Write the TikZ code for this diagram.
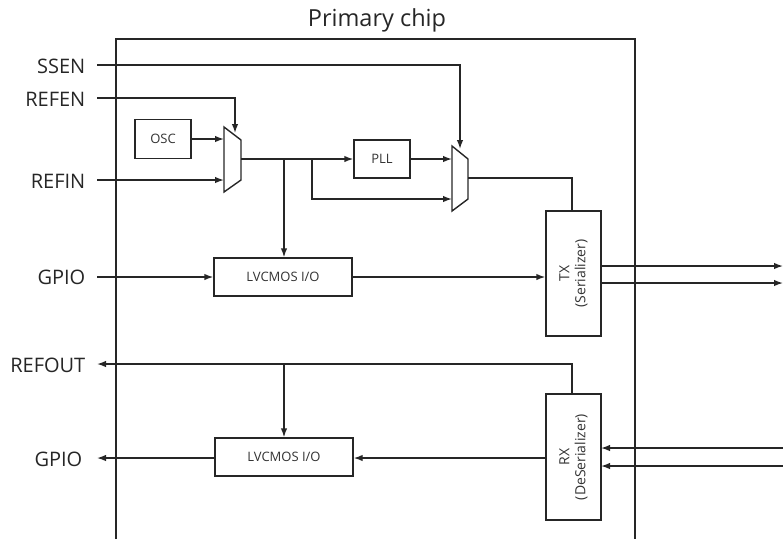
\documentclass[tikz,border=0pt]{standalone}
\usepackage{fontspec}
\setmainfont{Open Sans}
\usetikzlibrary{arrows.meta}
\begin{document}
\begin{tikzpicture}[x=1pt,y=-1pt,
  line width=1.4pt,
  wire/.style={draw=black!85, line width=1.4pt},
  arr/.style={wire, -{Latex[length=9pt,width=6.5pt]}},
  blk/.style={draw=black!85, line width=1.4pt, minimum width=#1, inner sep=0pt, font=\fontsize{13}{15}\selectfont, text=black!80},
  lbl/.style={anchor=east, font=\fontsize{20}{24}\selectfont, text=black!85, inner sep=0pt},
  vtxt/.style={rotate=90, align=center, font=\fontsize{14}{16}\selectfont, text=black!80}
]
\useasboundingbox (0,0) rectangle (783,539);
% title and chip outline
\node[font=\fontsize{23.5}{26}\selectfont, text=black!85] (title) at (377,20) {Primary chip};
\draw[wire] (116,539) -- (116,39) -- (635,39) -- (635,539);

% labels
\node[lbl] (ssen) at (86,66) {SSEN};
\node[lbl] (refen) at (86,99) {REFEN};
\node[lbl] (refin) at (86,181) {REFIN};
\node[lbl] (gpio1) at (86,277) {GPIO};
\node[lbl] (refout) at (86,365) {REFOUT};
\node[lbl] (gpio2) at (83,459) {GPIO};

\coordinate (sseni) at (97,65);
\coordinate (refeni) at (97,98);
\coordinate (refini) at (97,180);
\coordinate (gpioi) at (97,277);
\coordinate (refouto) at (97,364);
\coordinate (gpioo) at (97,458);

% blocks
\node[blk=56pt, minimum height=39pt] (osc) at (163,139) {OSC};
\node[blk=56pt, minimum height=38pt] (pll) at (382,159) {PLL};
\node[blk=138pt, minimum height=38pt] (lv1) at (283,277) {LVCMOS I/O};
\node[blk=138pt, minimum height=38pt] (lv2) at (284,457) {LVCMOS I/O};
\node[blk=55pt, minimum height=125pt] (tx) at (573.5,273.5) {};
\node[vtxt] (txt) at (tx.center) {TX\\(Serializer)};
\node[blk=55pt, minimum height=126pt] (rx) at (573.5,457) {};
\node[vtxt] (rxt) at (rx.center) {RX\\(DeSerializer)};

% muxes
\coordinate (m1a) at (224,127);
\coordinate (m1b) at (241,140);
\coordinate (m1c) at (241,180);
\coordinate (m1d) at (224,192);
\draw[wire, line join=miter] (m1a) -- (m1b) -- (m1c) -- (m1d) -- cycle;
\coordinate (m2a) at (452,146);
\coordinate (m2b) at (468,159);
\coordinate (m2c) at (468,199);
\coordinate (m2d) at (452,211);
\draw[wire, line join=miter] (m2a) -- (m2b) -- (m2c) -- (m2d) -- cycle;

% mux1 inputs
\draw[arr] (osc.east) -- (224,139);
\draw[arr] (refini) -- (224,180);
\draw[arr] (refeni) -- (235,98) -- (235,133);
% mux1 output
\draw[arr] (241,159) -- (pll.west);
\draw[arr] (284,159) -- (lv1.north -| 284,0);
\draw[arr] (312,159) -- (312,199) -- (452,199);
% mux2
\draw[arr] (pll.east) -- (452,159);
\draw[arr] (sseni) -- (460,65) -- (460,149);
\draw[wire] (468,178) -- (572,178) -- (572,211);
% TX
\draw[arr] (gpioi) -- (lv1.west);
\draw[arr] (lv1.east) -- (tx.west |- lv1.east);
\coordinate (txo1) at (783,266);
\coordinate (txo2) at (783,283);
\draw[arr] (601,266) -- (txo1);
\draw[arr] (601,283) -- (txo2);
% RX
\draw[arr] (572,394) -- (572,364) -- (refouto);
\draw[arr] (284,364) -- (lv2.north);
\draw[arr] (rx.west |- 0,458) -- (lv2.east |- 0,458);
\draw[arr] (lv2.west |- 0,458) -- (gpioo);
\coordinate (rxi1) at (783,448);
\coordinate (rxi2) at (783,466);
\draw[arr] (rxi1) -- (601,448);
\draw[arr] (rxi2) -- (601,466);
\end{tikzpicture}
\end{document}
